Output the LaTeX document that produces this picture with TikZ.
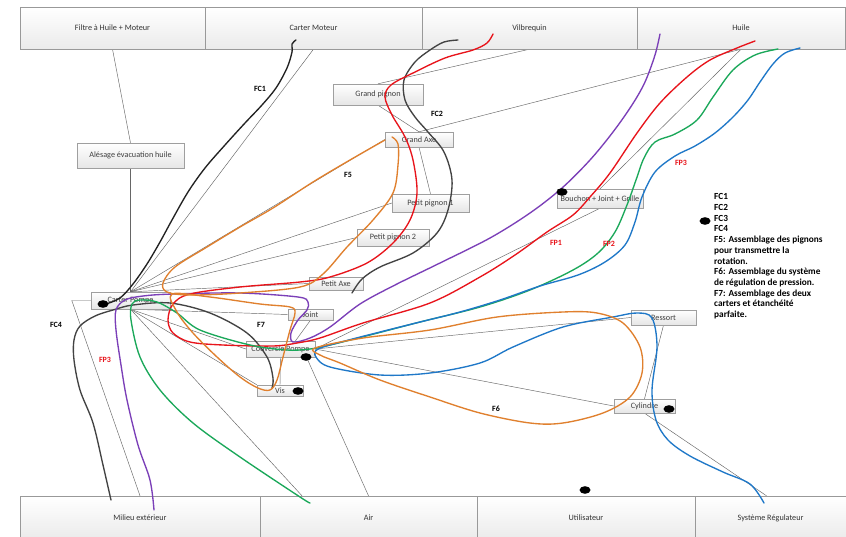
\documentclass[tikz,border=0pt]{standalone}
\usepackage{fontspec}
\setmainfont{Carlito}
\usetikzlibrary{shadows}
\definecolor{cred}{HTML}{E8141B}
\definecolor{cgreen}{HTML}{1BA85A}
\definecolor{cblue}{HTML}{1F78C8}
\definecolor{cpurple}{HTML}{7B3FB8}
\definecolor{corange}{HTML}{E0802E}
\definecolor{cblack}{HTML}{222222}
\pgfdeclarelayer{bg}
\pgfsetlayers{bg,main}
\begin{document}
\begin{tikzpicture}[x=1pt,y=-1pt,
  box/.style={draw=gray!75, top color=white, bottom color=gray!20, inner sep=0pt,
    font=\fontsize{8.2}{9}\selectfont, text=black!75,
    drop shadow={shadow xshift=0.8pt, shadow yshift=-0.8pt, fill=black, opacity=0.22}},
  bigbox/.style={draw=gray!80, top color=white, bottom color=gray!16, inner sep=0pt,
    font=\fontsize{8.2}{9}\selectfont, text=black!80},
  link/.style={draw=black!60, line width=0.45pt},
  curve/.style={line width=1.35pt, line cap=round, line join=round},
  lab/.style={font=\bfseries\fontsize{8}{9}\selectfont, text=black, inner sep=0pt},
  redlab/.style={lab, text=cred}]
\useasboundingbox (0,0) rectangle (846,536);
\begin{pgfonlayer}{bg}
\fill[white] (0,0) rectangle (846,536);
\end{pgfonlayer}

% top boxes
\node[bigbox, minimum width=185pt, minimum height=42pt] (filtre) at (112.5,28) {Filtre à Huile + Moteur};
\node[bigbox, minimum width=217pt, minimum height=42pt] (cmoteur) at (313.5,28) {Carter Moteur};
\node[bigbox, minimum width=215pt, minimum height=42pt] (vilb) at (529.5,28) {Vilbrequin};
\node[bigbox, minimum width=208pt, minimum height=42pt] (huile) at (741,28) {Huile};
% bottom boxes
\node[bigbox, minimum width=240pt, minimum height=44pt] (milieu) at (140,518) {Milieu extérieur};
\node[bigbox, minimum width=217pt, minimum height=44pt] (air) at (368.5,518) {Air};
\node[bigbox, minimum width=218pt, minimum height=44pt] (util) at (586,518) {Utilisateur};
\node[bigbox, minimum width=151pt, minimum height=44pt] (sysreg) at (770.5,518) {Système Régulateur};

% component boxes
\node[box, minimum width=107pt, minimum height=25pt] (ales) at (130.5,155.5) {Alésage évacuation huile};
\node[box, minimum width=90pt, minimum height=21pt] (gpignon) at (378,94.5) {Grand pignon};
\node[box, minimum width=68pt, minimum height=15pt] (gaxe) at (419,139.5) {Grand Axe};
\node[box, minimum width=77pt, minimum height=18pt] (pp1) at (430.5,203) {Petit pignon 1};
\node[box, minimum width=72pt, minimum height=17pt] (pp2) at (393,237.5) {Petit pignon 2};
\node[box, minimum width=54pt, minimum height=13pt] (paxe) at (336,283.5) {Petit Axe};
\node[box, minimum width=45pt, minimum height=11pt] (joint) at (310.5,314.5) {Joint};
\node[box, minimum width=69pt, minimum height=16pt] (couv) at (280.5,349) {Couvercle Pompe};
\node[box, minimum width=46pt, minimum height=11pt] (vis) at (280,390.5) {Vis};
\node[box, minimum width=79pt, minimum height=17pt] (cpompe) at (130.5,300.5) {Carter Pompe};
\node[box, minimum width=86pt, minimum height=19pt] (bouchon) at (600,198.5) {Bouchon + Joint + Grille};
\node[box, minimum width=65pt, minimum height=15pt] (ressort) at (663.5,317.5) {Ressort};
\node[box, minimum width=61pt, minimum height=14pt] (cyl) at (644.5,406) {Cylindre};

% grey links
\begin{pgfonlayer}{bg}
\draw[link] (filtre.south) -- (ales.north);
\draw[link] (ales.south) -- (cpompe.north);
\draw[link] (cmoteur.south) -- (cpompe.north);
\draw[link] (gpignon.north) -- (vilb.south);
\draw[link] (gpignon.south) -- (gaxe.north);
\draw[link] (gaxe.south) -- (pp1.north);
\draw[link] (gaxe.north) -- (huile.south);
\draw[link] (bouchon.north) -- (huile.south);
\draw[link] (couv.east) -- (bouchon.south);
\draw[link] (cpompe.north) -- (gaxe.west);
\draw[link] (cpompe.north) -- (pp1.west);
\draw[link] (cpompe.north) -- (pp2.west);
\draw[link] (cpompe.north) -- (paxe.west);
\draw[link] (cpompe.south) -- (joint.west);
\draw[link] (cpompe.south) -- (couv.west);
\draw[link] (cpompe.south) -- (vis.north west);
\draw[link] (cpompe.south) -- ([xshift=-66.5pt]air.north);
\draw[link] (cpompe.west) -- ++(-19,0) -- (milieu.north);
\draw[link] ([xshift=26pt]couv.south) -- (air.north);
\draw[link] (couv.east) -- (ressort.west);
\draw[link] (couv.east) -- (cyl.west);
\draw[link] (ressort.south) -- (cyl.north);
\draw[link] (cyl.south) -- ([xshift=-4pt]sysreg.north);
\draw[link] (couv.south) -- (vis.north);
\draw[link] (joint.south) -- ([xshift=15pt]couv.north);
\end{pgfonlayer}

% coloured curves
\draw[curve, cblack] plot[smooth, tension=0.55] coordinates {(296,40) (292,44) (292,52) (287,68) (276,88) (262,105) (245,123) (225,145) (205,168) (188,192) (172,220) (160,242) (147,264) (133,284) (120,298) (106,304)};
\draw[curve, cblack!85] plot[smooth, tension=0.55] coordinates {(458,40) (444,42) (430,50) (415,62) (404,80) (405,100) (415,117) (428,132) (444,152) (452,180) (448,210) (437,233) (413,253) (380,267) (362,279) (352,293)};
\draw[curve, cblack!85] plot[smooth, tension=0.55] coordinates {(111,500) (103,465) (93,423) (80,390) (74,360) (74,340) (80,326) (95,316) (113,310) (133,305) (170,303) (210,313) (247,333) (267,357) (273,378) (272,388)};
\draw[curve, cpurple] plot[smooth, tension=0.55] coordinates {(660,34) (655,55) (645,82) (632,105) (613,132) (590,160) (562,188) (530,213) (490,238) (440,263) (395,285) (360,304) (330,327) (310,338) (293,342) (291,333) (298,320) (307,310) (308,302) (298,297) (240,293) (173,294) (143,296) (125,300) (116,310) (116,330) (121,365) (127,400) (138,445) (150,480) (154,510)};
\draw[curve, cred] plot[smooth, tension=0.55] coordinates {(755,41) (737,48) (710,60) (687,77) (660,103) (637,133) (610,173) (590,197) (573,215) (547,232) (515,255) (480,277) (430,303) (363,323) (320,338) (297,343) (273,346) (223,345) (190,342) (173,333) (168,320) (173,304) (190,294) (240,287) (300,282) (330,277) (367,263) (393,243) (410,220) (417,193) (413,160) (405,137) (392,115) (385,97) (391,85) (413,73) (445,58) (473,50) (487,43) (493,34)};
\draw[curve, cgreen] plot[smooth, tension=0.55] coordinates {(778,49) (755,55) (733,70) (713,97) (697,120) (675,134) (655,142) (644,158) (636,180) (627,205) (615,232) (598,253) (573,270) (530,290) (480,307) (420,322) (370,335) (330,345) (310,349) (287,350) (250,345) (200,330) (177,313) (157,302) (140,300) (132,304) (131,320) (140,357) (160,390) (193,423) (240,457) (300,497) (310,503)};
\draw[curve, cblue] plot[smooth, tension=0.55] coordinates {(800,48) (785,53) (773,64) (760,82) (748,100) (733,117) (715,133) (695,146) (675,156) (655,172) (642,197) (635,222) (625,245) (605,262) (578,275) (540,286) (500,300) (460,312) (420,322) (380,332) (345,341) (318,349) (316,357) (330,367) (380,375) (430,373) (480,363) (513,347) (563,327) (613,317) (637,313) (652,318) (657,347) (652,390) (656,420) (668,440) (690,456) (723,472) (750,484) (764,503)};
% F5
\draw[curve, corange] plot[smooth, tension=0.55] coordinates {(392,137) (398,144) (398,165) (393,193) (373,220) (347,247) (323,274) (300,287) (240,293) (190,295) (167,292) (163,283) (175,267) (207,247) (240,227) (273,208) (313,182) (350,160) (385,140)};
% F7
\draw[curve, corange] plot[smooth cycle, tension=0.55] coordinates {(172,294) (210,297) (260,304) (290,307) (295,313) (290,330) (283,357) (277,380) (270,390) (258,388) (240,377) (217,357) (193,333) (177,312)};
% F6
\draw[curve, corange] plot[smooth cycle, tension=0.55] coordinates {(315,348) (363,338) (430,330) (497,317) (563,312) (597,313) (623,323) (640,347) (642,373) (630,397) (603,413) (563,423) (530,423) (480,413) (430,397) (380,380) (340,363) (320,355)};

% black dots
\fill[black] (103,304) ellipse (5.5 and 3.8);
\fill[black] (306,357) ellipse (5.5 and 3.8);
\fill[black] (298,391) ellipse (5.5 and 3.8);
\fill[black] (562,192) ellipse (5.5 and 3.8);
\fill[black] (705,221) ellipse (5.5 and 3.8);
\fill[black] (669,409) ellipse (5.5 and 3.8);
\fill[black] (585,490) ellipse (5.5 and 3.8);

% labels
\node[lab] (lfc1) at (260,89) {FC1};
\node[lab] (lfc2) at (437,114) {FC2};
\node[lab] (lf5) at (348,175) {F5};
\node[lab] (lf7) at (261,325) {F7};
\node[lab] (lfc4) at (56,325) {FC4};
\node[lab] (lf6) at (496,409) {F6};
\node[redlab] (lfp3a) at (105,360) {FP3};
\node[redlab] (lfp3b) at (681,163) {FP3};
\node[redlab] (lfp1) at (556,243) {FP1};
\node[redlab] (lfp2) at (609,244) {FP2};

% legend
\node[anchor=north west, inner sep=0pt, align=left, font=\bfseries\fontsize{9.3}{10.7}\selectfont] (legend) at (714,193.5)
 {FC1\\FC2\\FC3\\FC4\\F5: Assemblage des pignons\\pour transmettre la\\rotation.\\F6: Assemblage du système\\de régulation de pression.\\F7: Assemblage des deux\\carters et étanchéité\\parfaite.};
\end{tikzpicture}
\end{document}
